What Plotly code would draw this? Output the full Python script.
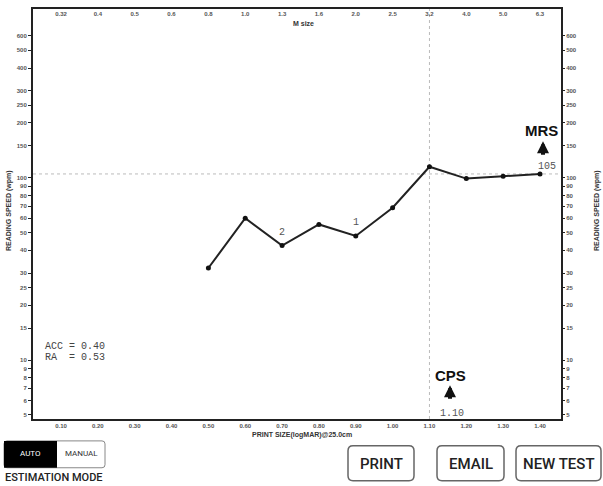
import numpy as np
import plotly.graph_objects as go

# ---- data ----
logmar = [0.50, 0.60, 0.70, 0.80, 0.90, 1.00, 1.10, 1.20, 1.30, 1.40]
speed = [32, 60, 42.5, 55.5, 48, 68.5, 115, 99, 102, 105]

x_ticks = [0.10, 0.20, 0.30, 0.40, 0.50, 0.60, 0.70, 0.80, 0.90, 1.00, 1.10, 1.20, 1.30, 1.40]
x_ticklabels = ["%.2f" % v for v in x_ticks]
m_sizes = ["0.32", "0.4", "0.5", "0.6", "0.8", "1.0", "1.3", "1.6", "2.0", "2.5", "3.2", "4.0", "5.0", "6.3"]
y_ticks = [5, 6, 7, 8, 9, 10, 15, 20, 25, 30, 40, 50, 60, 70, 80, 90, 100, 150, 200, 250, 300, 400, 500, 600]
y_ticklabels = [str(v) for v in y_ticks]

mrs = 105
cps = 1.10
acc = 0.40
ra = 0.53
run_labels = [(0.70, 42.5, "2"), (0.90, 48, "1")]

x_range = [0.024, 1.457]
y_range = [0.677, 2.926]  # log10

W, H = 603, 486
L, R, T, B = 33, 42, 7, 67
PW, PH = W - L - R, H - T - B


def px2x(px):
    return (px - L) / PW


def py2y(py):
    return (H - B - py) / PH


tick_font = dict(family="Arial", size=6, color="#555", weight="bold")
frame_col = "#222"

fig = go.Figure()

# reference lines
fig.add_trace(go.Scatter(x=x_range, y=[mrs, mrs], mode="lines",
                         line=dict(color="#bbb", width=1, dash="dot"),
                         hoverinfo="skip", showlegend=False))
fig.add_trace(go.Scatter(x=[cps, cps], y=[10 ** y_range[0], 10 ** y_range[1]], mode="lines",
                         line=dict(color="#bbb", width=1, dash="dot"),
                         hoverinfo="skip", showlegend=False))

# main curve
fig.add_trace(go.Scatter(x=logmar, y=speed, mode="lines+markers",
                         line=dict(color="#222", width=2),
                         marker=dict(color="#111", size=5),
                         showlegend=False))

# dummy trace for secondary axes
fig.add_trace(go.Scatter(x=logmar, y=speed, xaxis="x2", yaxis="y2", mode="markers",
                         marker=dict(opacity=0), hoverinfo="skip", showlegend=False))

fig.update_layout(
    width=W, height=H,
    margin=dict(l=L, r=R, t=T, b=B),
    paper_bgcolor="white", plot_bgcolor="white",
    xaxis=dict(range=x_range, tickvals=x_ticks, ticktext=x_ticklabels, ticks="",
               showgrid=False, zeroline=False, showline=True, linewidth=2,
               linecolor=frame_col, mirror=True, tickfont=tick_font),
    xaxis2=dict(range=x_range, overlaying="x", side="top", tickvals=x_ticks, ticktext=m_sizes,
                ticks="", ticklabelposition="inside", showgrid=False, zeroline=False,
                showline=False, tickfont=tick_font),
    yaxis=dict(type="log", range=y_range, tickvals=y_ticks, ticktext=y_ticklabels,
               ticks="outside", ticklen=3, tickwidth=1, tickcolor=frame_col,
               showgrid=False, zeroline=False, showline=True, linewidth=2,
               linecolor=frame_col, mirror=True, tickfont=tick_font),
    yaxis2=dict(type="log", range=y_range, overlaying="y", side="right", tickvals=y_ticks,
                ticktext=y_ticklabels, ticks="outside", ticklen=3, tickwidth=1,
                tickcolor=frame_col, showgrid=False, zeroline=False, showline=False,
                tickfont=tick_font),
)

ann = []


def text_ann(text, x, y, xref="paper", yref="paper", xanchor="center", **kw):
    d = dict(text=text, x=x, y=y, xref=xref, yref=yref, xanchor=xanchor,
             yanchor="middle", showarrow=False)
    d.update(kw)
    ann.append(d)


title_font = dict(family="Arial", size=7, color="#333", weight="bold")
mono = dict(family="Liberation Mono", size=10, color="#555")

# axis titles
text_ann("M size", px2x(303), py2y(22), font=title_font)
text_ann("PRINT SIZE(logMAR)@25.0cm", px2x(302), py2y(435), font=title_font)
for px in (9, 597):
    text_ann("READING SPEED (wpm)", px2x(px), py2y(210), textangle=-90, font=title_font)

# run labels
for xv, yv, t in run_labels:
    text_ann(t, xv, np.log10(yv), xref="x", yref="y", yshift=13, font=mono)

# MRS
text_ann("105", 1.40, np.log10(mrs), xref="x", yref="y", xshift=7, yshift=7,
         font=dict(family="Liberation Mono", size=10, color="#555"))
text_ann("MRS", 1.40, np.log10(mrs), xref="x", yref="y", xshift=1, yshift=43,
         font=dict(family="Arial", size=15, color="#111", weight="bold"))

# CPS
text_ann("1.10", cps, py2y(413), xref="x", xshift=23, font=mono)
text_ann("CPS", cps, py2y(375), xref="x", xshift=21,
         font=dict(family="Arial", size=15, color="#111", weight="bold"))

# arrows
for (ax_px, tip_py) in [(543, 140), (450, 385)]:
    ann.append(dict(text="", x=px2x(ax_px), y=py2y(tip_py), xref="paper", yref="paper",
                    ax=0, ay=15, arrowhead=2, arrowsize=0.6, arrowwidth=4, arrowcolor="#111",
                    showarrow=True))

# ACC / RA
text_ann("ACC = %.2f" % acc, px2x(43), py2y(346), xanchor="left",
         font=dict(family="Liberation Mono", size=10, color="#444"))
text_ann("RA\u00a0\u00a0= %.2f" % ra, px2x(43), py2y(357), xanchor="left",
         font=dict(family="Liberation Mono", size=10, color="#444"))

# bottom UI
shapes = []


def rrect(x0, y0, x1, y1, r, **kw):
    X0, X1 = px2x(x0), px2x(x1)
    Y0, Y1 = py2y(y0), py2y(y1)
    rx, ry = r / PW, r / PH
    p = (f"M {X0+rx},{Y0} L {X1-rx},{Y0} Q {X1},{Y0} {X1},{Y0-ry} "
         f"L {X1},{Y1+ry} Q {X1},{Y1} {X1-rx},{Y1} L {X0+rx},{Y1} "
         f"Q {X0},{Y1} {X0},{Y1+ry} L {X0},{Y0-ry} Q {X0},{Y0} {X0+rx},{Y0} Z")
    return dict(type="path", path=p, xref="paper", yref="paper", **kw)


# toggle
shapes.append(rrect(4, 441, 105, 468, 3, line=dict(color="#888", width=1), fillcolor="white"))
shapes.append(dict(type="rect", xref="paper", yref="paper", x0=px2x(4), x1=px2x(57),
                   y0=py2y(468), y1=py2y(441), fillcolor="black", line=dict(width=0)))
text_ann("AUTO", px2x(30), py2y(454), font=dict(family="Roboto", size=8, color="white"))
text_ann("MANUAL", px2x(81), py2y(454), font=dict(family="Roboto", size=8, color="#333"))
text_ann("ESTIMATION MODE", px2x(3), py2y(478), xanchor="left",
         font=dict(family="Roboto", size=11, color="#222", weight=500))

for (x0, x1, label) in [(348, 414, "PRINT"), (437, 504, "EMAIL"), (516, 601, "NEW TEST")]:
    shapes.append(rrect(x0, 446, x1, 481, 5, line=dict(color="#666", width=1.5), fillcolor="white"))
    text_ann(label, px2x((x0 + x1) / 2), py2y(464),
             font=dict(family="Roboto", size=15, color="#222", weight=500))

fig.update_layout(annotations=ann, shapes=shapes)

fig.write_html("out.html")
